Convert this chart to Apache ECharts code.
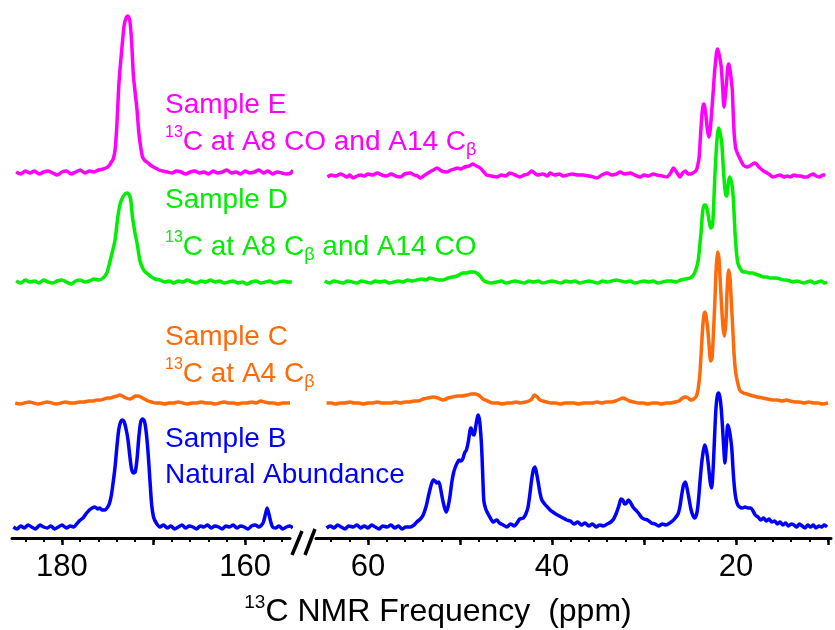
<!DOCTYPE html>
<html><head><meta charset="utf-8">
<script src="https://cdn.jsdelivr.net/npm/echarts@6/dist/echarts.min.js"></script>
<style>html,body{margin:0;padding:0;background:#fff}#c{width:835px;height:630px}</style>
</head><body><div id="c"></div>
<script>
// ---------- DATA: [ppm, intensity above the trace's own baseline] ----------
const sampleE_left = [[185.0,3],[184.5,1],[184.0,4],[183.5,2],[183.0,4],[182.5,1],[182.0,3],[181.5,4],[181.0,2],[180.5,0],[180.0,3],[179.5,4],[179.0,1],[178.5,3],[178.0,5],[177.5,2],[177.0,4],[176.5,3],[176.0,5],[175.5,6],[175.2,7],[175.0,8],[174.8,10],[174.6,13],[174.4,16],[174.2,25],[174.0,50],[173.8,88],[173.6,112],[173.4,132],[173.2,150],[173.0,157],[172.8,159],[172.6,155],[172.4,135],[172.2,100],[172.0,82],[171.8,65],[171.6,42],[171.4,28],[171.2,18],[171.0,15],[170.6,12],[170.2,9],[169.8,7],[169.4,5],[169.0,4],[168.5,3],[168.0,2],[167.5,4],[167.0,3],[166.5,1],[166.0,3],[165.5,4],[165.0,2],[164.5,3],[164.0,1],[163.5,4],[163.0,2],[162.5,3],[162.0,5],[161.5,2],[161.0,3],[160.5,1],[160.0,4],[159.5,2],[159.0,3],[158.5,5],[158.0,2],[157.5,4],[157.0,1],[156.5,3],[156.0,2],[155.5,1],[155.0,2],[154.8,5]];
const sampleE_right = [[64.4,-2],[64.0,0],[63.5,-1],[63.0,1],[62.7,0],[62.3,-2],[62.0,0],[61.6,-3],[61.2,-1],[60.8,0],[60.4,-1],[60.0,1],[59.5,0],[59.0,2],[58.5,0],[58.0,-1],[57.5,1],[57.0,-1],[56.5,-2],[56.0,1],[55.4,2],[55.0,0],[54.6,-1],[54.3,-3],[53.8,0],[53.3,3],[52.9,5],[52.5,7],[52.0,4],[51.4,3],[51.0,5],[50.6,6],[50.3,7],[49.9,6],[49.5,8],[49.0,9],[48.6,11],[48.2,9],[47.8,7],[47.4,3],[47.1,0],[46.6,-1],[46.0,-2],[45.5,0],[45.0,-1],[44.6,2],[44.0,0],[43.5,-2],[43.0,0],[42.6,1],[42.2,4],[41.9,2],[41.6,0],[41.0,1],[40.5,-1],[40.2,2],[39.7,0],[39.2,1],[38.8,-1],[38.3,0],[37.8,1],[37.2,0],[36.6,0],[36.0,-1],[35.5,-2],[35.1,-3],[34.6,0],[34.0,2],[33.5,0],[33.0,1],[32.6,3],[32.1,1],[31.5,2],[31.0,0],[30.4,-2],[30.0,0],[29.5,-1],[29.0,1],[28.6,0],[28.0,-1],[27.5,-2],[27.1,2],[26.8,7],[26.4,2],[26.1,-2],[25.8,2],[25.5,4],[25.2,1],[24.9,1],[24.7,2],[24.5,3],[24.3,5],[24.15,10],[24.0,18],[23.85,40],[23.7,60],[23.6,68],[23.5,71],[23.4,68],[23.25,58],[23.1,45],[22.95,38],[22.8,45],[22.65,62],[22.5,80],[22.35,100],[22.2,115],[22.1,123],[22.0,126],[21.9,123],[21.75,117],[21.6,108],[21.45,88],[21.3,68],[21.15,80],[21.0,95],[20.9,107],[20.8,111],[20.7,108],[20.55,98],[20.4,85],[20.3,62],[20.2,42],[20.05,28],[19.9,23],[19.6,17],[19.2,10],[18.8,8],[18.5,9],[18.2,11],[17.9,12],[17.6,9],[17.4,7],[17.0,4],[16.6,2],[16.3,0],[16.0,-2],[15.6,-1],[15.2,0],[14.8,-2],[14.4,-1],[14.1,-2],[13.7,0],[13.3,-1],[13.0,-1],[12.6,-2],[12.3,-2],[11.9,0],[11.6,1],[11.3,-1],[10.9,-2],[10.6,0],[10.3,0]];

const sampleD_left = [[185.0,1],[184.5,-1],[184.0,2],[183.5,0],[183.0,1],[182.5,-1],[182.0,2],[181.5,0],[181.0,-1],[180.5,1],[180.0,2],[179.5,0],[179.0,-2],[178.5,1],[178.0,2],[177.5,0],[177.0,1],[176.5,3],[176.0,2],[175.5,4],[175.1,9],[174.8,19],[174.5,30],[174.2,42],[173.9,65],[173.7,76],[173.5,82],[173.2,87],[172.9,89],[172.7,88],[172.5,83],[172.3,65],[172.0,48],[171.8,39],[171.5,22],[171.2,14],[170.9,10],[170.5,7],[170.2,5],[169.8,3],[169.3,2],[168.8,0],[168.3,1],[167.8,-1],[167.3,1],[166.8,0],[166.3,2],[165.8,0],[165.3,-1],[164.8,1],[164.3,0],[163.8,2],[163.3,0],[162.8,1],[162.3,-1],[161.8,0],[161.3,1],[160.8,-1],[160.3,0],[159.8,-2],[159.3,0],[158.8,1],[158.3,-1],[157.8,0],[157.3,1],[156.8,-1],[156.3,0],[155.8,1],[155.3,0],[154.9,0]];
const sampleD_right = [[64.7,1],[64.2,-1],[63.7,1],[63.2,0],[62.7,-1],[62.2,1],[61.7,0],[61.2,-1],[60.7,1],[60.2,0],[59.7,-1],[59.2,1],[58.7,0],[58.2,1],[57.7,-1],[57.2,0],[56.7,1],[56.2,0],[55.7,2],[55.2,1],[54.7,2],[54.2,3],[53.7,2],[53.3,4],[52.8,3],[52.3,2],[51.8,2],[51.3,4],[50.8,5],[50.3,6],[49.7,9],[49.3,9],[48.9,10],[48.5,10],[48.2,9],[47.8,6],[47.5,2],[47.1,0],[46.6,-1],[46.0,0],[45.5,1],[45.0,-1],[44.5,0],[44.0,1],[43.5,0],[43.0,-1],[42.5,1],[42.0,0],[41.5,1],[41.0,-1],[40.5,0],[40.0,1],[39.5,0],[39.0,-1],[38.5,1],[38.0,0],[37.5,1],[37.0,-1],[36.5,0],[36.0,1],[35.5,0],[35.0,-1],[34.5,1],[34.0,0],[33.5,1],[33.0,2],[32.5,1],[32.0,0],[31.5,1],[31.0,-1],[30.5,0],[30.0,1],[29.5,0],[29.0,1],[28.5,-1],[28.0,0],[27.5,1],[27.0,1],[26.5,0],[26.0,2],[25.5,3],[25.0,4],[24.7,6],[24.5,9],[24.3,14],[24.1,22],[23.95,35],[23.8,49],[23.7,62],[23.6,72],[23.45,77],[23.3,77],[23.15,73],[23.0,66],[22.9,60],[22.75,54],[22.6,55],[22.5,62],[22.4,82],[22.3,105],[22.2,122],[22.1,138],[22.0,148],[21.9,154],[21.8,152],[21.7,148],[21.55,140],[21.4,118],[21.25,98],[21.1,87],[21.0,86],[20.85,97],[20.7,105],[20.55,102],[20.4,95],[20.3,85],[20.2,68],[20.1,49],[19.95,30],[19.8,19],[19.5,13],[19.2,10],[18.9,10],[18.6,9],[18.2,9],[17.9,8],[17.6,7],[17.3,6],[17.0,5],[16.6,5],[16.3,4],[16.0,4],[15.6,4],[15.2,3],[14.8,2],[14.5,2],[14.1,1],[13.8,0],[13.4,1],[13.0,0],[12.6,-1],[12.3,0],[11.9,1],[11.5,-1],[11.1,0],[10.7,1],[10.4,-1],[10.1,0]];

const sampleC_left = [[185.1,0],[184.6,-1],[184.1,0],[183.6,1],[183.1,0],[182.6,-1],[182.1,0],[181.6,1],[181.1,0],[180.6,-1],[180.1,0],[179.6,1],[179.1,0],[178.6,0],[178.1,1],[177.6,1],[177.1,2],[176.6,2],[176.2,3],[175.8,3],[175.4,4],[175.0,5],[174.7,5],[174.4,6],[174.0,7],[173.7,8],[173.4,7],[173.0,5],[172.6,4],[172.3,5],[172.0,7],[171.7,7],[171.4,6],[171.0,4],[170.6,2],[170.2,1],[169.8,0],[169.3,0],[168.8,-1],[168.3,0],[167.8,0],[167.3,1],[166.8,0],[166.3,-1],[165.8,0],[165.3,0],[164.8,1],[164.3,0],[163.8,0],[163.3,-1],[162.8,0],[162.3,1],[161.8,0],[161.3,0],[160.8,-1],[160.3,0],[159.8,0],[159.3,1],[158.8,0],[158.3,2],[157.9,1],[157.4,0],[156.9,0],[156.4,-1],[155.9,0],[155.4,0],[155.1,0]];
const sampleC_right = [[64.5,0],[64.0,0],[63.5,-1],[63.0,0],[62.5,0],[62.0,1],[61.5,0],[61.0,0],[60.5,-1],[60.0,0],[59.5,0],[59.0,1],[58.5,0],[58.0,0],[57.5,0],[57.0,1],[56.5,0],[56.0,1],[55.5,1],[55.0,2],[54.5,2],[54.0,4],[53.5,5],[52.9,6],[52.4,5],[51.8,3],[51.3,5],[50.8,6],[50.3,7],[49.8,7],[49.2,8],[48.8,9],[48.4,9],[48.0,8],[47.5,4],[47.0,2],[46.4,0],[45.9,0],[45.4,-1],[44.9,0],[44.4,0],[43.9,1],[43.4,0],[42.9,1],[42.5,2],[42.2,4],[41.9,8],[41.6,6],[41.3,3],[41.0,2],[40.6,1],[40.1,0],[39.6,0],[39.1,-1],[38.6,0],[38.1,0],[37.6,0],[37.1,-1],[36.6,0],[36.1,0],[35.6,0],[35.1,1],[34.6,0],[34.1,1],[33.6,1],[33.1,2],[32.6,4],[32.3,5],[32.0,4],[31.6,2],[31.1,1],[30.6,0],[30.1,0],[29.6,-1],[29.1,0],[28.6,0],[28.1,-1],[27.6,0],[27.1,0],[26.6,1],[26.2,2],[25.8,5],[25.5,6],[25.2,5],[24.9,3],[24.6,4],[24.3,7],[24.15,12],[24.0,22],[23.9,32],[23.75,55],[23.6,78],[23.45,90],[23.35,91],[23.2,84],[23.05,72],[22.9,55],[22.75,42],[22.6,45],[22.45,70],[22.3,100],[22.15,135],[22.0,151],[21.85,145],[21.7,120],[21.55,95],[21.4,75],[21.25,67],[21.1,80],[20.95,115],[20.8,133],[20.65,125],[20.5,100],[20.35,75],[20.2,48],[20.05,32],[19.9,24],[19.6,13],[19.2,10],[18.8,9],[18.5,8],[18.1,7],[17.7,6],[17.1,5],[16.6,4],[16.0,3],[15.5,3],[15.0,2],[14.5,3],[14.1,2],[13.6,1],[13.1,1],[12.6,0],[12.1,1],[11.6,0],[11.1,0],[10.6,-1],[10.0,0]];

const sampleB_left = [[185.3,0],[184.9,-2],[184.5,1],[184.1,-1],[183.7,2],[183.3,0],[182.9,-2],[182.4,2],[182.0,0],[181.6,-1],[181.2,1],[180.8,-2],[180.4,0],[180.0,2],[179.5,-1],[179.1,1],[178.7,0],[178.4,3],[178.0,7],[177.7,9],[177.3,14],[177.0,17],[176.7,19],[176.4,20],[176.1,18],[175.9,19],[175.6,17],[175.3,17],[175.0,20],[174.8,24],[174.6,32],[174.4,45],[174.2,60],[174.0,80],[173.8,97],[173.6,105],[173.4,107],[173.2,105],[173.0,98],[172.8,88],[172.6,72],[172.4,58],[172.2,54],[172.0,55],[171.8,68],[171.6,90],[171.4,105],[171.2,108],[171.0,106],[170.8,95],[170.6,75],[170.4,48],[170.2,22],[170.0,10],[169.7,4],[169.3,0],[168.9,2],[168.5,-1],[168.1,1],[167.7,-2],[167.3,0],[166.9,2],[166.5,-1],[166.1,1],[165.7,0],[165.3,-2],[164.9,1],[164.5,0],[164.1,2],[163.7,-1],[163.3,1],[162.9,0],[162.5,-2],[162.1,1],[161.7,0],[161.3,2],[160.9,-1],[160.5,1],[160.1,0],[159.7,-2],[159.3,1],[158.9,2],[158.5,0],[158.2,2],[158.0,5],[157.8,12],[157.6,19],[157.4,13],[157.2,5],[157.0,0],[156.7,-1],[156.3,1],[155.9,-2],[155.5,0],[155.1,1],[154.8,-1]];
const sampleB_right = [[64.5,-1],[64.1,1],[63.7,-1],[63.3,2],[62.9,0],[62.5,-2],[62.1,1],[61.6,0],[61.2,2],[60.8,-1],[60.4,1],[60.0,-1],[59.6,2],[59.2,0],[58.8,-2],[58.4,1],[57.9,0],[57.5,2],[57.1,-1],[56.7,1],[56.3,-2],[55.9,0],[55.4,0],[55.0,2],[54.7,5],[54.3,8],[54.0,12],[53.7,20],[53.5,28],[53.3,36],[53.1,43],[52.9,47],[52.7,46],[52.5,44],[52.3,45],[52.1,38],[51.9,28],[51.7,20],[51.5,15],[51.3,20],[51.1,30],[50.9,44],[50.7,54],[50.5,60],[50.3,64],[50.1,67],[49.9,66],[49.7,68],[49.5,74],[49.3,77],[49.1,85],[48.9,97],[48.8,99],[48.6,93],[48.45,92],[48.3,100],[48.1,110],[48.0,112],[47.85,105],[47.7,88],[47.6,70],[47.5,45],[47.4,26],[47.2,18],[47.0,14],[46.7,9],[46.4,5],[46.0,7],[45.7,4],[45.3,2],[44.9,0],[44.5,3],[44.1,1],[43.8,4],[43.5,8],[43.1,9],[42.8,14],[42.6,20],[42.4,33],[42.2,48],[42.0,58],[41.85,60],[41.7,55],[41.5,45],[41.3,34],[41.1,27],[40.8,23],[40.5,20],[40.2,17],[39.9,15],[39.6,13],[39.2,11],[38.8,9],[38.4,7],[38.0,6],[37.6,3],[37.2,5],[36.8,2],[36.4,4],[36.0,1],[35.6,3],[35.2,0],[34.8,2],[34.4,1],[34.0,3],[33.6,5],[33.3,8],[33.0,14],[32.7,22],[32.5,28],[32.3,27],[32.1,23],[31.9,24],[31.7,27],[31.5,25],[31.2,20],[30.9,17],[30.6,14],[30.3,10],[30.0,8],[29.6,7],[29.2,4],[28.8,3],[28.4,1],[28.0,3],[27.6,2],[27.2,4],[26.9,6],[26.6,9],[26.3,13],[26.1,20],[25.9,32],[25.7,42],[25.5,45],[25.3,38],[25.1,28],[24.9,18],[24.7,12],[24.5,9],[24.3,12],[24.15,20],[24.0,35],[23.85,52],[23.7,66],[23.55,76],[23.4,82],[23.25,78],[23.1,70],[22.95,58],[22.8,45],[22.65,39],[22.5,55],[22.35,85],[22.2,115],[22.05,130],[21.9,134],[21.75,130],[21.6,118],[21.45,98],[21.3,75],[21.2,64],[21.05,82],[20.9,102],[20.75,98],[20.6,90],[20.45,78],[20.3,55],[20.15,38],[20.0,28],[19.8,22],[19.6,20],[19.3,19],[19.0,20],[18.7,19],[18.4,19],[18.2,17],[17.9,12],[17.6,10],[17.3,7],[17.0,9],[16.7,6],[16.4,8],[16.1,5],[15.8,6],[15.5,3],[15.2,5],[14.9,2],[14.6,4],[14.3,1],[14.0,3],[13.7,2],[13.4,0],[13.1,3],[12.8,1],[12.5,-1],[12.2,2],[11.9,0],[11.6,2],[11.3,-1],[11.0,1],[10.7,0],[10.4,2],[10.1,0]];

// vertical stacking offset of each trace (intensity units)
const traceOffsets = { E: 363, D: 256, C: 135, B: 11 };

// axis ticks / labels (ppm)
const leftMajorTicks = [160, 170, 180];
const leftTickLabels = [160, 180];
const leftMinorTicks = [156,158,160,162,164,166,168,170,172,174,176,178,180,182,184];
const rightMajorTicks = [10, 20, 30, 40, 50, 60];
const rightTickLabels = [20, 40, 60];
const rightMinorTicks = [10,12,14,16,18,20,22,24,26,28,30,32,34,36,38,40,42,44,46,48,50,52,54,56,58,60,62,64];

// annotation texts
const sampleLabels = [
  '{n|Sample E}',
  '{s|13}{n|C at A8 CO and A14 C}{b|β}',
  '{n|Sample D}',
  '{s|13}{n|C at A8 C}{b|β}{n| and A14 CO}',
  '{n|Sample C}',
  '{s|13}{n|C at A4 C}{b|β}',
  '{n|Sample B}',
  '{n|Natural Abundance}'
];
const axisTitle = '{s|13}{n|C NMR Frequency  (ppm)}';

// ---------- CHART ----------
const FONT = 'Liberation Sans, Arial, Helvetica, sans-serif';
const colors = { E: '#ff00ff', D: '#00ee00', C: '#ff6a0a', B: '#0000ff' };

const chart = echarts.init(document.getElementById('c'), null, { renderer: 'canvas' });

function shift(arr, off) { return arr.map(p => [p[0], p[1] + off]); }

function lineSeries(data, key, side) {
  return {
    type: 'line', xAxisIndex: side, yAxisIndex: side,
    data: shift(data, traceOffsets[key]),
    showSymbol: false, symbol: 'none', smooth: 0.25, clip: false,
    lineStyle: { color: colors[key], width: 3.5 },
    animation: false, silent: true
  };
}

function majorAxis(grid, min, max, ticks, labels) {
  return {
    gridIndex: grid, type: 'value', position: 'bottom', inverse: true, min: min, max: max,
    axisLine: { show: true, onZero: false, lineStyle: { color: '#000', width: 3 } },
    axisTick: { show: true, inside: false, length: 7, customValues: ticks, lineStyle: { color: '#000', width: 2.5 } },
    axisLabel: { show: true, customValues: labels, margin: 14, fontSize: 31, color: '#000', fontFamily: FONT },
    splitLine: { show: false }
  };
}
function minorAxis(grid, min, max, ticks) {
  return {
    gridIndex: grid, type: 'value', position: 'bottom', inverse: true, min: min, max: max,
    axisLine: { show: false, onZero: false },
    axisTick: { show: true, inside: false, length: 4, customValues: ticks, lineStyle: { color: '#000', width: 2 } },
    axisLabel: { show: false },
    splitLine: { show: false }
  };
}

const labelColors = ['E','E','D','D','C','C','B','B'];
const labelBaselines = [115, 152, 210, 257, 347, 384, 449, 485];
const richStyle = (c) => ({
  n: { fontSize: 28, lineHeight: 34, fontFamily: FONT, fill: c, color: c },
  s: { fontSize: 16, lineHeight: 16, verticalAlign: 'top', fontFamily: FONT, fill: c, color: c },
  b: { fontSize: 18, lineHeight: 12, verticalAlign: 'bottom', fontFamily: FONT, fill: c, color: c }
});

const graphics = sampleLabels.map((t, i) => ({
  type: 'text', x: 165, y: labelBaselines[i] - 10, silent: true,
  style: { text: t, align: 'left', verticalAlign: 'middle', fill: colors[labelColors[i]], rich: richStyle(colors[labelColors[i]]) }
}));
// axis break marks
graphics.push({ type: 'line', silent: true, shape: { x1: 292, y1: 555, x2: 302, y2: 531 }, style: { stroke: '#000', lineWidth: 3.5 } });
graphics.push({ type: 'line', silent: true, shape: { x1: 305, y1: 555, x2: 315, y2: 529 }, style: { stroke: '#000', lineWidth: 3.5 } });
// axis title
graphics.push({
  type: 'text', x: 438, y: 612, silent: true,
  style: {
    text: axisTitle, align: 'center', verticalAlign: 'middle', fill: '#000',
    rich: {
      n: { fontSize: 32, lineHeight: 38, fontFamily: FONT, fill: '#000' },
      s: { fontSize: 19, lineHeight: 19, verticalAlign: 'top', fontFamily: FONT, fill: '#000' }
    }
  }
});

chart.setOption({
  backgroundColor: '#fff',
  animation: false,
  grid: [
    { left: 12, width: 278, top: 10, height: 528, containLabel: false },
    { left: 316, width: 515, top: 10, height: 528, containLabel: false }
  ],
  xAxis: [
    majorAxis(0, 155.1, 185.45, leftMajorTicks, leftTickLabels),
    majorAxis(1, 9.67, 65.65, rightMajorTicks, rightTickLabels),
    minorAxis(0, 155.1, 185.45, leftMinorTicks),
    minorAxis(1, 9.67, 65.65, rightMinorTicks)
  ],
  yAxis: [
    { gridIndex: 0, type: 'value', min: 0, max: 528, show: false },
    { gridIndex: 1, type: 'value', min: 0, max: 528, show: false }
  ],
  series: [
    lineSeries(sampleE_left, 'E', 0), lineSeries(sampleE_right, 'E', 1),
    lineSeries(sampleD_left, 'D', 0), lineSeries(sampleD_right, 'D', 1),
    lineSeries(sampleC_left, 'C', 0), lineSeries(sampleC_right, 'C', 1),
    lineSeries(sampleB_left, 'B', 0), lineSeries(sampleB_right, 'B', 1)
  ],
  graphic: graphics
});
</script></body></html>
